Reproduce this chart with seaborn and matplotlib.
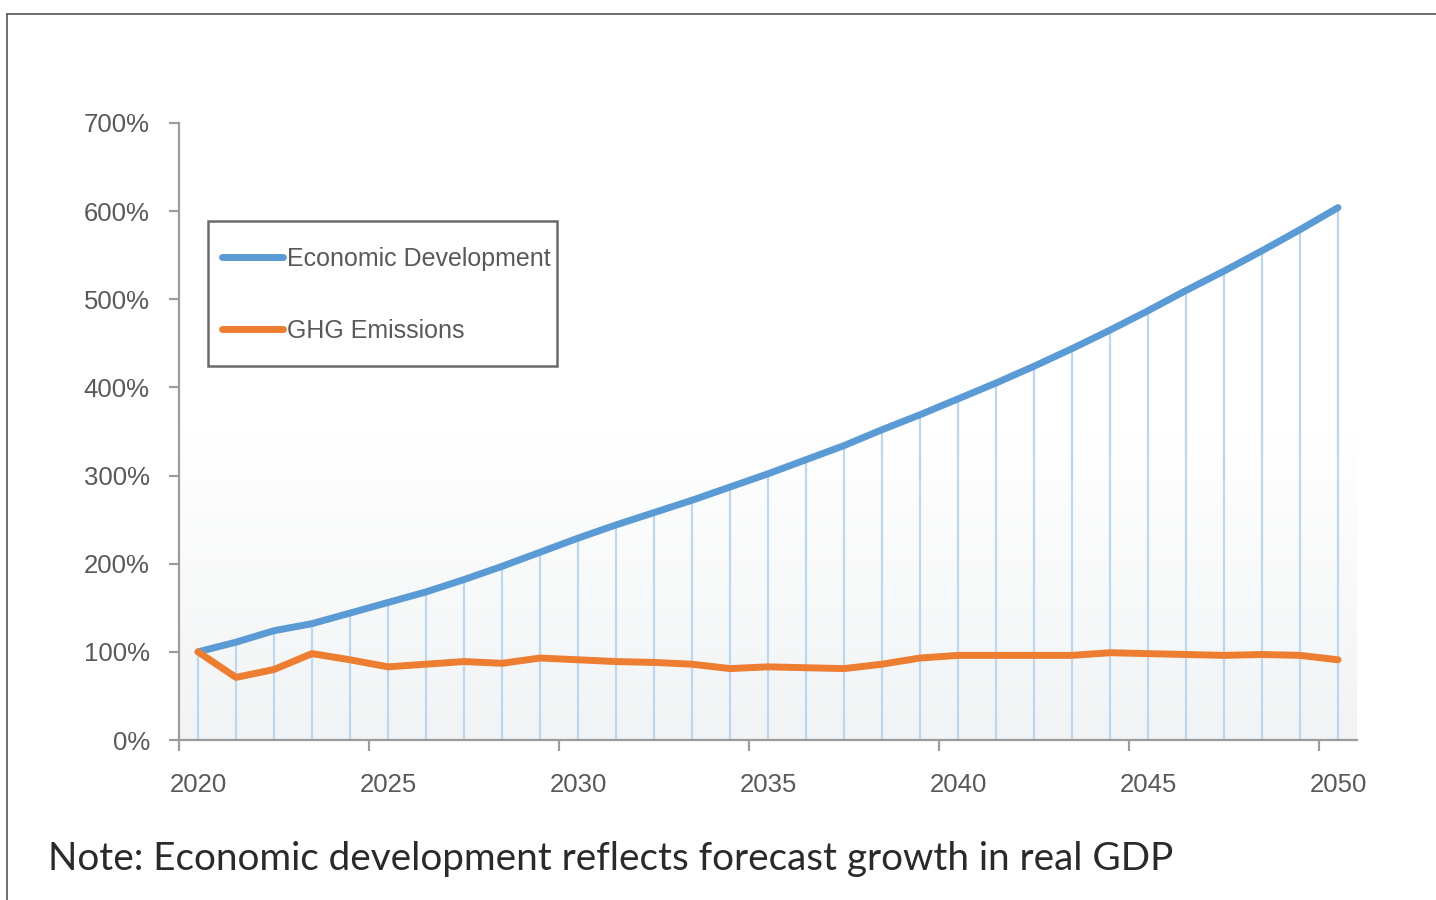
import numpy as np
import pandas as pd
import matplotlib
matplotlib.use("Agg")
import matplotlib.pyplot as plt
from matplotlib.lines import Line2D
from matplotlib.patches import Rectangle
from matplotlib.colors import LinearSegmentedColormap
import seaborn as sns

years = list(range(2020, 2051))
economic_development = [100, 111, 124, 132, 144, 156, 168, 182, 197, 213, 229,
                        244, 258, 272, 287, 302, 318, 334, 352, 369, 387,
                        405, 424, 444, 465, 487, 510, 532, 555, 579, 604]
ghg_emissions = [100, 71, 80, 98, 91, 83, 86, 89, 87, 93, 91,
                 89, 88, 86, 81, 83, 82, 81, 86, 93, 96,
                 96, 96, 96, 99, 98, 97, 96, 97, 96, 91]
series_names = ["Economic Development", "GHG Emissions"]
x_label_years = [2020, 2025, 2030, 2035, 2040, 2045, 2050]
x_tick_labels = ["2020", "2025", "2030", "2035", "2040", "2045", "2050"]
y_ticks = [0, 100, 200, 300, 400, 500, 600, 700]
y_tick_labels = ["0%", "100%", "200%", "300%", "400%", "500%", "600%", "700%"]
note = "Note: Economic development reflects forecast growth in real GDP"

BLUE = "#5b9bd5"
ORANGE = "#ed7d31"
DROP = "#bdd7ee"
AXIS = "#9c9c9c"
TXT = "#595959"

sns.set_theme(style="white")
plt.rcParams["font.family"] = ["Liberation Sans", "DejaVu Sans"]

df = pd.DataFrame({
    "year": years * 2,
    "value": economic_development + ghg_emissions,
    "series": [series_names[0]] * len(years) + [series_names[1]] * len(years),
})

fig = plt.figure(figsize=(14.36, 9.0), dpi=100)
fig.patch.set_facecolor("white")
W, H = 1436, 900
ax = fig.add_axes([179 / W, 1 - 740 / H, (1357 - 179) / W, (740 - 123) / H])
ax.set_facecolor("white")

# background gradient of plot area
grad = np.linspace(0, 1, 256).reshape(-1, 1)
cmap = LinearSegmentedColormap.from_list("bg", ["#ffffff", "#ffffff", "#f1f3f4"])
ax.imshow(grad, extent=[0, 1, 0, 1], transform=ax.transAxes, cmap=cmap,
          aspect="auto", origin="upper", zorder=0, vmin=0, vmax=1)

# drop lines
ax.vlines(years, 0, economic_development, colors=DROP, linewidth=1.6, zorder=1)

sns.lineplot(data=df, x="year", y="value", hue="series",
             palette=[BLUE, ORANGE], linewidth=5, legend=False, ax=ax,
             zorder=3)
for ln in ax.get_lines():
    ln.set_solid_capstyle("round")
    ln.set_solid_joinstyle("round")

ax.set_xlim(2019.5, 2050.5)
ax.set_ylim(0, 700)
ax.set_xlabel("")
ax.set_ylabel("")

for s in ["top", "right"]:
    ax.spines[s].set_visible(False)
for s in ["left", "bottom"]:
    ax.spines[s].set_color(AXIS)
    ax.spines[s].set_linewidth(1.6)

ax.set_yticks(y_ticks)
ax.set_yticklabels(y_tick_labels)
ax.set_xticks([y - 0.5 for y in x_label_years])
ax.set_xticklabels([""] * len(x_label_years))
ax.set_xticks(x_label_years, minor=True)
ax.set_xticklabels(x_tick_labels, minor=True)
ax.tick_params(axis="y", which="major", length=7, width=1.6, color=AXIS,
               direction="out", pad=14, labelsize=18.5, labelcolor=TXT, left=True)
ax.tick_params(axis="x", which="major", length=8, width=1.6, color=AXIS,
               direction="out", bottom=True)
ax.tick_params(axis="x", which="minor", length=0, pad=24, labelsize=18.5,
               labelcolor=TXT, bottom=True)
ax.grid(False)

handles = [Line2D([], [], color=BLUE, lw=5, solid_capstyle="round"),
           Line2D([], [], color=ORANGE, lw=5, solid_capstyle="round")]
leg = fig.legend(handles, series_names, loc="upper left",
                 bbox_to_anchor=(222 / W, 1 - 247 / H), frameon=False,
                 fontsize=18, handlelength=2.45,
                 handletextpad=0.16, labelspacing=1.9, borderpad=0,
                 borderaxespad=0)
for t in leg.get_texts():
    t.set_color(TXT)
fig.add_artist(Rectangle((208 / W, 1 - 366 / H), (557 - 208) / W, (366 - 221) / H,
                         transform=fig.transFigure, fill=False,
                         edgecolor="#6a6a6a", linewidth=1.8, zorder=5))

fig.text(48 / W, 1 - 859 / H, note, fontsize=27.8, color="#2a2a2a",
         family=["Lato", "DejaVu Sans"], fontweight="normal",
         va="center", ha="left")

# outer frame lines of the screenshot
fig.add_artist(Line2D([7 / W, 1.0], [1 - 14 / H, 1 - 14 / H], color="#555555",
                      lw=1.2, transform=fig.transFigure))
fig.add_artist(Line2D([7 / W, 7 / W], [0, 1 - 14 / H], color="#555555",
                      lw=1.2, transform=fig.transFigure))

fig.savefig("out.png", dpi=100, facecolor="white")
